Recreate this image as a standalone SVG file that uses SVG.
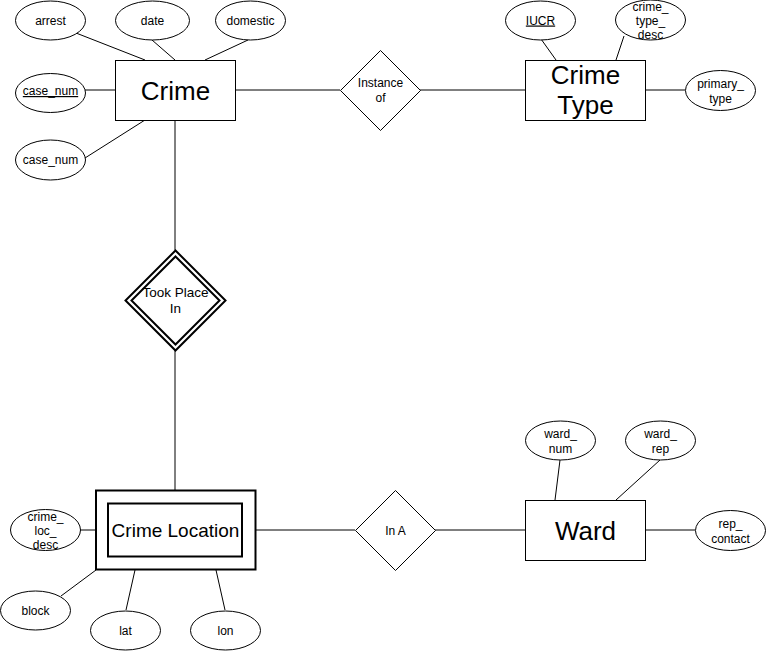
<svg xmlns="http://www.w3.org/2000/svg" width="766" height="651" viewBox="0 0 766 651">
<style>
.s{fill:#fff;stroke:#000;stroke-width:1}
.l{stroke:#000;stroke-width:1;fill:none}
.t{font-family:"Liberation Sans",Arial,sans-serif;font-size:12px;fill:#000;text-anchor:middle}
.big{font-family:"Liberation Sans",Arial,sans-serif;font-size:26px;fill:#000;text-anchor:middle}
.u{text-decoration:underline}
</style>
<rect width="766" height="651" fill="#fff"/>
<g id="connectors">
<line class="l" x1="76" y1="33" x2="145" y2="60"/>
<line class="l" x1="152" y1="40" x2="175" y2="60"/>
<line class="l" x1="248" y1="40" x2="205" y2="60"/>
<line class="l" x1="85" y1="90" x2="115" y2="90"/>
<line class="l" x1="85" y1="158" x2="145" y2="120"/>
<line class="l" x1="235" y1="90" x2="340" y2="90"/>
<line class="l" x1="420" y1="90" x2="525" y2="90"/>
<line class="l" x1="541" y1="39" x2="556" y2="60"/>
<line class="l" x1="624" y1="36" x2="616" y2="60"/>
<line class="l" x1="645" y1="90" x2="685" y2="90"/>
<line class="l" x1="175" y1="120" x2="175" y2="250"/>
<line class="l" x1="175" y1="350" x2="175" y2="490"/>
<line class="l" x1="80" y1="530" x2="95" y2="530"/>
<line class="l" x1="61" y1="596" x2="96" y2="570"/>
<line class="l" x1="126" y1="610" x2="135" y2="570"/>
<line class="l" x1="225" y1="610" x2="216" y2="570"/>
<line class="l" x1="255" y1="530" x2="355" y2="530"/>
<line class="l" x1="435" y1="530" x2="525" y2="530"/>
<line class="l" x1="560" y1="460" x2="555" y2="500"/>
<line class="l" x1="660" y1="460" x2="616" y2="500"/>
<line class="l" x1="645" y1="530" x2="695" y2="530"/>
</g>
<g id="crime">
<rect class="s" x="115.5" y="60.5" width="120" height="60"/>
<text class="big" x="175.5" y="100">Crime</text>
</g>
<g id="arrest"><ellipse class="s" cx="50.5" cy="20.5" rx="35" ry="19.5"/><text class="t" x="50.5" y="24.5">arrest</text></g>
<g id="date"><ellipse class="s" cx="152.5" cy="20.5" rx="37" ry="19.5"/><text class="t" x="152.5" y="24.5">date</text></g>
<g id="domestic"><ellipse class="s" cx="250.5" cy="20.5" rx="35" ry="19.5"/><text class="t" x="250.5" y="24.5">domestic</text></g>
<g id="case_num_key"><ellipse class="s" cx="50.5" cy="93" rx="35" ry="19.5"/><text class="t u" x="50.5" y="95">case_num</text></g>
<g id="case_num"><ellipse class="s" cx="50.5" cy="160" rx="35" ry="20"/><text class="t" x="50.5" y="164">case_num</text></g>
<g id="instance_of">
<polygon class="s" points="380.5,50.5 420.5,90.5 380.5,130.5 340.5,90.5"/>
<text class="t" x="380.5" y="87">Instance</text>
<text class="t" x="380.5" y="102">of</text>
</g>
<g id="crime_type">
<rect class="s" x="525.5" y="60.5" width="120" height="60"/>
<text class="big" x="585.5" y="84">Crime</text>
<text class="big" x="585.5" y="114">Type</text>
</g>
<g id="iucr"><ellipse class="s" cx="540.5" cy="20.5" rx="35" ry="19.5"/><text class="t u" x="540.5" y="24.5">IUCR</text></g>
<g id="crime_type_desc"><ellipse class="s" cx="650.5" cy="20" rx="35" ry="20"/>
<text class="t" x="650.5" y="11">crime_</text><text class="t" x="650.5" y="25">type_</text><text class="t" x="650.5" y="39">desc</text></g>
<g id="primary_type"><ellipse class="s" cx="720.5" cy="90.5" rx="35" ry="20"/>
<text class="t" x="720.5" y="88">primary_</text><text class="t" x="720.5" y="103">type</text></g>
<g id="took_place_in">
<polygon points="175.5,250.5 225.5,300.5 175.5,350.5 125.5,300.5" fill="#fff" stroke="#000" stroke-width="2"/>
<polygon points="175.5,256.5 219.5,300.5 175.5,344.5 131.5,300.5" fill="#fff" stroke="#000" stroke-width="2"/>
<text class="t" x="175.5" y="297" style="font-size:13.5px">Took Place</text>
<text class="t" x="175.5" y="313" style="font-size:13.5px">In</text>
</g>
<g id="crime_location">
<rect x="96" y="490.5" width="159.5" height="79" fill="#fff" stroke="#000" stroke-width="2"/>
<rect x="108" y="503.5" width="134" height="53" fill="#fff" stroke="#000" stroke-width="2"/>
<text x="175.5" y="537" font-family="Liberation Sans, Arial, sans-serif" font-size="19" text-anchor="middle">Crime Location</text>
</g>
<g id="crime_loc_desc"><ellipse class="s" cx="45.5" cy="530" rx="35" ry="20.5"/>
<text class="t" x="45.5" y="521">crime_</text><text class="t" x="45.5" y="535">loc_</text><text class="t" x="45.5" y="549">desc</text></g>
<g id="block"><ellipse class="s" cx="35.5" cy="610.5" rx="35" ry="19.5"/><text class="t" x="35.5" y="614.5">block</text></g>
<g id="lat"><ellipse class="s" cx="125.5" cy="630.5" rx="35" ry="19.5"/><text class="t" x="125.5" y="634.5">lat</text></g>
<g id="lon"><ellipse class="s" cx="225.5" cy="630.5" rx="35" ry="19.5"/><text class="t" x="225.5" y="634.5">lon</text></g>
<g id="in_a">
<polygon class="s" points="395.5,490.5 435.5,530.5 395.5,570.5 355.5,530.5"/>
<text class="t" x="395.5" y="534.5">In A</text>
</g>
<g id="ward">
<rect class="s" x="525.5" y="500.5" width="120" height="60"/>
<text class="big" x="585.5" y="540">Ward</text>
</g>
<g id="ward_num"><ellipse class="s" cx="560.5" cy="440.5" rx="35" ry="19.5"/>
<text class="t" x="560.5" y="438">ward_</text><text class="t" x="560.5" y="453">num</text></g>
<g id="ward_rep"><ellipse class="s" cx="660.5" cy="440.5" rx="35" ry="19.5"/>
<text class="t" x="660.5" y="438">ward_</text><text class="t" x="660.5" y="453">rep</text></g>
<g id="rep_contact"><ellipse class="s" cx="730.5" cy="530.5" rx="35" ry="20"/>
<text class="t" x="730.5" y="528">rep_</text><text class="t" x="730.5" y="543">contact</text></g>
</svg>
